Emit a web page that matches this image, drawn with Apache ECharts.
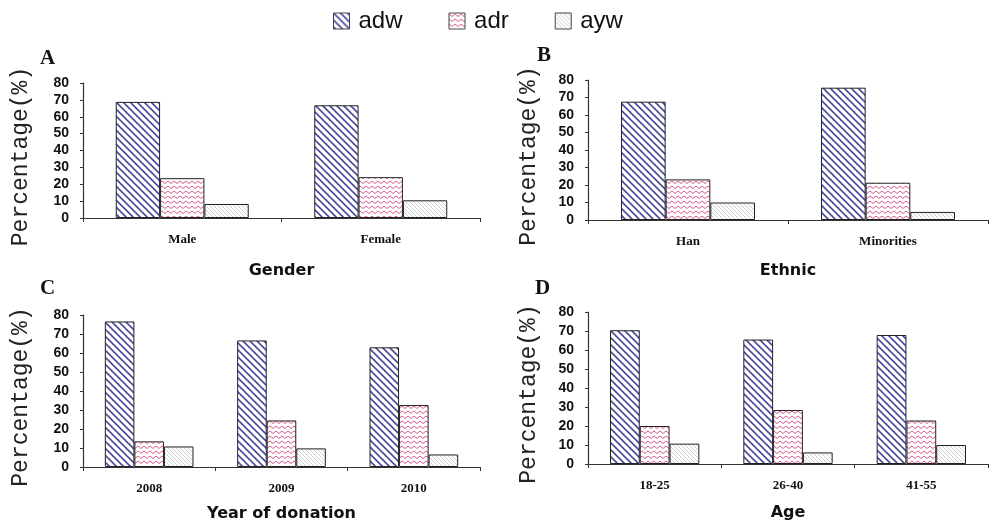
<!DOCTYPE html>
<html><head><meta charset="utf-8">
<script src="https://cdn.jsdelivr.net/npm/echarts@6/dist/echarts.min.js"></script>
<style>html,body{margin:0;padding:0;background:#fff}#c{width:989px;height:524px}</style>
</head><body><div id="c"></div>
<script>
// ---- data ----
const seriesNames = ['adw', 'adr', 'ayw'];
const catA = ['Male', 'Female'];
const adwA = [68.8, 66.8];
const adrA = [23.6, 24.2];
const aywA = [8.3, 10.5];
const catB = ['Han', 'Minorities'];
const adwB = [67.6, 75.6];
const adrB = [23.2, 21.3];
const aywB = [10.0, 4.6];
const catC = ['2008', '2009', '2010'];
const adwC = [76.6, 66.6, 63.0];
const adrC = [13.5, 24.5, 32.6];
const aywC = [10.8, 9.8, 6.6];
const catD = ['18-25', '26-40', '41-55'];
const adwD = [70.4, 65.5, 67.9];
const adrD = [20.0, 28.4, 22.9];
const aywD = [10.7, 6.1, 10.0];
const panelLetters = ['A', 'B', 'C', 'D'];
const axisTitles = ['Gender', 'Ethnic', 'Year of donation', 'Age'];
const yName = 'Percentage(%)';

// ---- patterns ----
function stripeTile(size, color, lw) {
  const c = document.createElement('canvas'); c.width = c.height = size;
  const g = c.getContext('2d'); g.fillStyle = '#fff'; g.fillRect(0, 0, size, size);
  g.strokeStyle = color; g.lineWidth = lw;
  for (const k of [-size, 0, size]) { g.beginPath(); g.moveTo(k - 1, -1); g.lineTo(k + size + 1, size + 1); g.stroke(); }
  return c;
}
function zigTile(w, h, color, lw) {
  const c = document.createElement('canvas'); c.width = w; c.height = h;
  const g = c.getContext('2d'); g.fillStyle = '#fff'; g.fillRect(0, 0, w, h);
  g.strokeStyle = color; g.lineWidth = lw;
  g.beginPath(); g.moveTo(0, 1); g.lineTo(w / 2, h - 1.5); g.lineTo(w, 1); g.stroke();
  return c;
}
const fills = [
  { image: stripeTile(7, '#4a4a9c', 1.6), repeat: 'repeat' },
  { image: zigTile(6, 5, '#d65a90', 1.0), repeat: 'repeat' },
  { image: stripeTile(4, '#c4c4c4', 0.8), repeat: 'repeat' }
];

const panels = [
  { cats: catA, vals: [adwA, adrA, aywA], grid: { left: 83, top: 83, width: 397, height: 135 }, nameGapX: 45, nameGapY: 51 },
  { cats: catB, vals: [adwB, adrB, aywB], grid: { left: 588, top: 80, width: 400, height: 140 }, nameGapX: 43, nameGapY: 48 },
  { cats: catC, vals: [adwC, adrC, aywC], grid: { left: 83, top: 315, width: 397, height: 152 }, nameGapX: 39, nameGapY: 51 },
  { cats: catD, vals: [adwD, adrD, aywD], grid: { left: 588, top: 312, width: 400, height: 152 }, nameGapX: 41, nameGapY: 48 }
];
const letterPos = [[40, 48], [537, 45], [40, 278], [535, 278]];

const axisLine = { show: true, lineStyle: { color: '#333', width: 1.2 } };
const option = {
  animation: false,
  backgroundColor: '#fff',
  legend: {
    data: seriesNames, left: 328, top: 4, itemWidth: 16, itemHeight: 16, itemGap: 46, icon: 'rect',
    itemStyle: { borderColor: '#444', borderWidth: 1 },
    textStyle: { fontFamily: 'Liberation Sans', fontSize: 24, color: '#111', padding: [0, 0, 0, 4] }
  },
  grid: panels.map(p => p.grid),
  xAxis: panels.map((p, i) => ({
    type: 'category', gridIndex: i, data: p.cats,
    name: axisTitles[i], nameLocation: 'middle', nameGap: p.nameGapX,
    nameTextStyle: { fontFamily: 'DejaVu Sans', fontWeight: 'bold', fontSize: 16, color: '#111' },
    axisLine: axisLine, axisTick: { show: true, length: 4, lineStyle: { color: '#333' } },
    axisLabel: { fontFamily: 'Liberation Serif', fontWeight: 'bold', fontSize: 13, color: '#111', margin: 15 }
  })),
  yAxis: panels.map((p, i) => ({
    type: 'value', gridIndex: i, min: 0, max: 80, interval: 10,
    name: yName, nameLocation: 'middle', nameGap: p.nameGapY, nameRotate: 90,
    nameTextStyle: { fontFamily: 'Liberation Mono', fontSize: 23, color: '#222', padding: [0, 12, 0, 0] },
    axisLine: axisLine, axisTick: { show: true, length: 3, lineStyle: { color: '#333' } },
    splitLine: { show: false },
    axisLabel: { fontFamily: 'Liberation Sans', fontWeight: 'bold', fontSize: 14, color: '#111', margin: 14 }
  })),
  series: [],
  graphic: panelLetters.map((t, i) => ({
    type: 'text', left: letterPos[i][0], top: letterPos[i][1],
    style: { text: t, font: 'bold 21px "Liberation Serif"', fill: '#111' }
  }))
};
panels.forEach((p, i) => {
  seriesNames.forEach((n, k) => {
    option.series.push({
      name: n, type: 'bar', xAxisIndex: i, yAxisIndex: i, data: p.vals[k],
      barGap: '0%', barCategoryGap: '33%',
      itemStyle: { color: fills[k], borderColor: '#222', borderWidth: 1 }
    });
  });
});
const chart = echarts.init(document.getElementById('c'), null, { renderer: 'canvas' });
chart.setOption(option);
</script></body></html>
